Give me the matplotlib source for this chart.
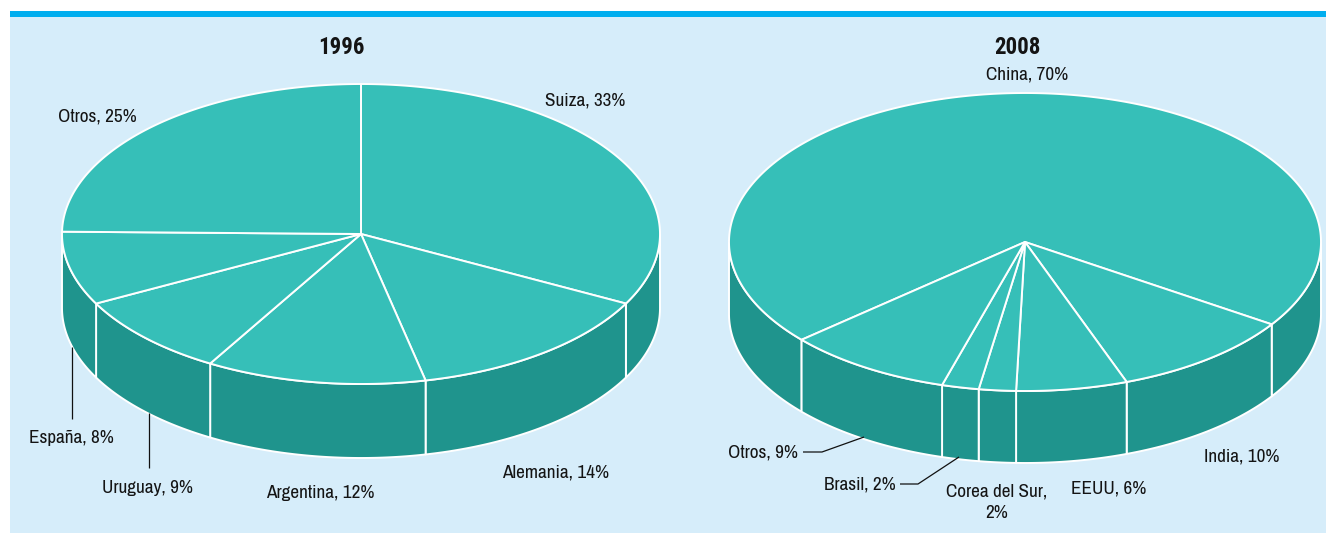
import numpy as np
import matplotlib
matplotlib.use("Agg")
import matplotlib.pyplot as plt
from matplotlib.patches import Polygon, Rectangle

# ---------------- data ----------------
cats_1996 = ["Suiza", "Alemania", "Argentina", "Uruguay", "España", "Otros"]
vals_1996 = [33, 14, 12, 9, 8, 25]
cats_2008 = ["China", "India", "EEUU", "Corea del Sur", "Brasil", "Otros"]
vals_2008 = [70, 10, 6, 2, 2, 9]
titles = ["1996", "2008"]

# ---------------- style ----------------
W, H = 1326, 533
BG = "#D6EDFA"
STRIPE = "#00AEEF"
TOP = "#36BFB8"
SIDE = "#1F948D"
TXT = "#141414"
FONT = ["Liberation Sans Narrow", "Archivo Narrow", "PT Sans Narrow", "DejaVu Sans"]
FONT_B = ["Liberation Sans Narrow", "Roboto Condensed", "PT Sans Narrow", "Asap Condensed", "DejaVu Sans"]
plt.rcParams["font.family"] = FONT

fig = plt.figure(figsize=(W / 100, H / 100), dpi=100)
ax = fig.add_axes([0, 0, 1, 1])
ax.set_xlim(0, W)
ax.set_ylim(H, 0)
ax.axis("off")

ax.add_patch(Rectangle((10, 17), W - 10, H - 17, facecolor=BG, edgecolor="none", zorder=0))
ax.add_patch(Rectangle((10, 11), W - 10, 6, facecolor=STRIPE, edgecolor="none", zorder=0))


def pt(cx, cy, rx, ry, deg, dy=0.0):
    t = np.radians(deg)
    return cx + rx * np.sin(t), cy - ry * np.cos(t) + dy


def arc(cx, cy, rx, ry, a0, a1, dy=0.0):
    n = max(int(abs(a1 - a0) * 2) + 2, 4)
    t = np.linspace(a0, a1, n)
    x, y = pt(cx, cy, rx, ry, t, dy)
    return np.column_stack([x, y])


def pie3d(values, cx, cy, rx, ry, depth, start):
    v = np.asarray(values, float)
    b = start + 360 * np.concatenate([[0], np.cumsum(v) / v.sum()])
    lw = 1.4
    # sides (front visible half: 90..270 deg clockwise from top)
    for i in range(len(v)):
        a0, a1 = b[i], b[i + 1]
        for k in range(-1, 3):
            s = max(a0, 90 + 360 * k)
            e = min(a1, 270 + 360 * k)
            if e > s:
                top = arc(cx, cy, rx, ry, s, e)
                bot = arc(cx, cy, rx, ry, e, s, depth)
                ax.add_patch(Polygon(np.vstack([top, bot]), closed=True,
                                     facecolor=SIDE, edgecolor="white",
                                     lw=lw, joinstyle="round", zorder=2))
    # tops
    for i in range(len(v)):
        pts = np.vstack([[cx, cy], arc(cx, cy, rx, ry, b[i], b[i + 1])])
        ax.add_patch(Polygon(pts, closed=True, facecolor=TOP, edgecolor="white",
                             lw=lw, joinstyle="round", zorder=3))


pie3d(vals_1996, 361, 234, 299, 150, 74, 0)
pie3d(vals_2008, 1025, 242, 296, 149, 72, 229)

FS = 13.8
# labels (layout positions in pixels)
lab_1996 = [(585, 101), (556, 473), (320, 493), (148, 488), (71, 438), (97, 117)]
lab_2008 = [(1027, 75), (1242, 457), (1109, 489), (997, 502), (860, 485), (763, 453)]

for (x, y), c, v in zip(lab_1996, cats_1996, vals_1996):
    ax.text(x, y, f"{c}, {v}%", ha="center", va="center", fontsize=FS, color=TXT, zorder=5)
for (x, y), c, v in zip(lab_2008, cats_2008, vals_2008):
    txt = f"{c},\n{v}%" if c == "Corea del Sur" else f"{c}, {v}%"
    ax.text(x, y, txt, ha="center", va="center", fontsize=FS, color=TXT,
            linespacing=1.4, zorder=5)

ax.text(341, 47, titles[0], ha="center", va="center", fontsize=16.5, fontweight="bold",
        color=TXT, family=FONT_B)
ax.text(1017, 48, titles[1], ha="center", va="center", fontsize=16.5, fontweight="bold",
        color=TXT, family=FONT_B)

# leader lines
leaders = [
    [(72, 347), (72, 419)],
    [(149, 413), (149, 468)],
    [(803, 452), (822, 452), (864, 437)],
    [(900, 484), (918, 484), (959, 457)],
]
for ln in leaders:
    xs, ys = zip(*ln)
    ax.plot(xs, ys, color="#111111", lw=0.9, zorder=4, solid_capstyle="butt")

fig.savefig("out.png", dpi=100, facecolor="white")
